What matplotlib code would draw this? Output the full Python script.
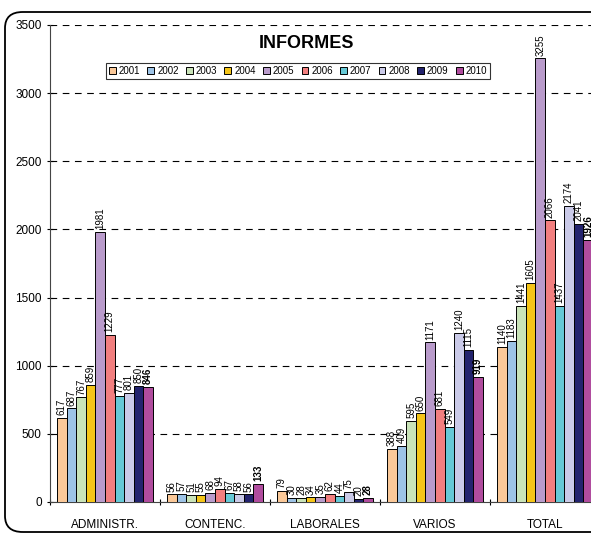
import numpy as np
import matplotlib
matplotlib.use('Agg')
import matplotlib.pyplot as plt
from matplotlib.patches import FancyBboxPatch

# Report counts per category and year
categories = ['ADMINISTR.', 'CONTENC.', 'LABORALES', 'VARIOS', 'TOTAL']
years = ['2001', '2002', '2003', '2004', '2005', '2006', '2007', '2008', '2009', '2010']

v2001 = [617, 56, 79, 388, 1140]
v2002 = [687, 57, 30, 409, 1183]
v2003 = [767, 51, 28, 595, 1441]
v2004 = [859, 55, 34, 650, 1605]
v2005 = [1981, 68, 35, 1171, 3255]
v2006 = [1229, 94, 62, 681, 2066]
v2007 = [777, 67, 44, 549, 1437]
v2008 = [801, 58, 75, 1240, 2174]
v2009 = [850, 56, 20, 1115, 2041]
v2010 = [846, 133, 28, 919, 1926]
series = [v2001, v2002, v2003, v2004, v2005, v2006, v2007, v2008, v2009, v2010]

colors = ['#FAC898', '#9DC3E6', '#C9E3B8', '#F5C518', '#B99BCB',
          '#F27F7F', '#66C9D6', '#CACAE8', '#23236E', '#B04C9E']

fig = plt.figure(figsize=(5.91, 5.36), dpi=100)
# the plot area runs a little past the right edge of the image
ax = fig.add_axes([50 / 591, 1 - 502 / 536, 550 / 591, 477 / 536])

# rounded frame around the chart (right side falls outside the image)
frame = FancyBboxPatch((5 / 591, 4 / 536), 1.05, 520 / 536,
                       boxstyle='round,pad=0,rounding_size=0.03',
                       transform=fig.transFigure, facecolor='none',
                       edgecolor='black', linewidth=1.3, clip_on=False)
fig.patches.append(frame)

x = np.arange(len(categories))
w = 0.087
for j, (vals, col) in enumerate(zip(series, colors)):
    pos = x + (j - 4.5) * w
    ax.bar(pos, vals, width=w, color=col, edgecolor='black', linewidth=0.7,
           label=years[j], zorder=3)
    for px, v in zip(pos, vals):
        ax.annotate(str(v), (px, v), textcoords='offset points', xytext=(0, 2),
                    rotation=90, ha='center', va='bottom', fontsize=7,
                    fontweight='bold' if j == 9 else 'normal',
                    family='Liberation Sans', annotation_clip=False)

ax.set_xlim(-0.5, 4.5)
ax.set_ylim(0, 3500)
ax.set_yticks(np.arange(0, 3501, 500))
ax.yaxis.grid(True, linestyle=(0, (6, 5)), color='black', linewidth=0.8)
ax.set_axisbelow(True)

ax.set_xticks(np.arange(-0.5, 5, 1))
ax.set_xticklabels([])
ax.set_xticks(x, minor=True)
ax.set_xticklabels(categories, minor=True, fontsize=8.5, family='Liberation Sans')
ax.tick_params(axis='x', which='minor', length=0, pad=12)
ax.tick_params(axis='x', which='major', length=4, direction='inout')
ax.tick_params(axis='y', labelsize=8.5, length=5, direction='inout')
for lbl in ax.get_yticklabels():
    lbl.set_family('Liberation Sans')

for s in ['top', 'right']:
    ax.spines[s].set_visible(False)
ax.spines['left'].set_color('#444444')
ax.spines['bottom'].set_color('#444444')

fig.text(306 / 591, 1 - 44 / 536, 'INFORMES', ha='center', va='center',
         fontsize=13, fontweight='bold', family='Liberation Sans')

leg = fig.legend(loc='center', bbox_to_anchor=(298 / 591, 1 - 71 / 536), ncol=10,
                 frameon=True, fancybox=False, edgecolor='black',
                 handlelength=0.7, handleheight=0.7, handletextpad=0.3,
                 columnspacing=0.75, borderpad=0.3,
                 prop={'family': 'Liberation Sans', 'size': 7})
leg.get_frame().set_linewidth(0.8)

fig.savefig('out.png', dpi=100)
